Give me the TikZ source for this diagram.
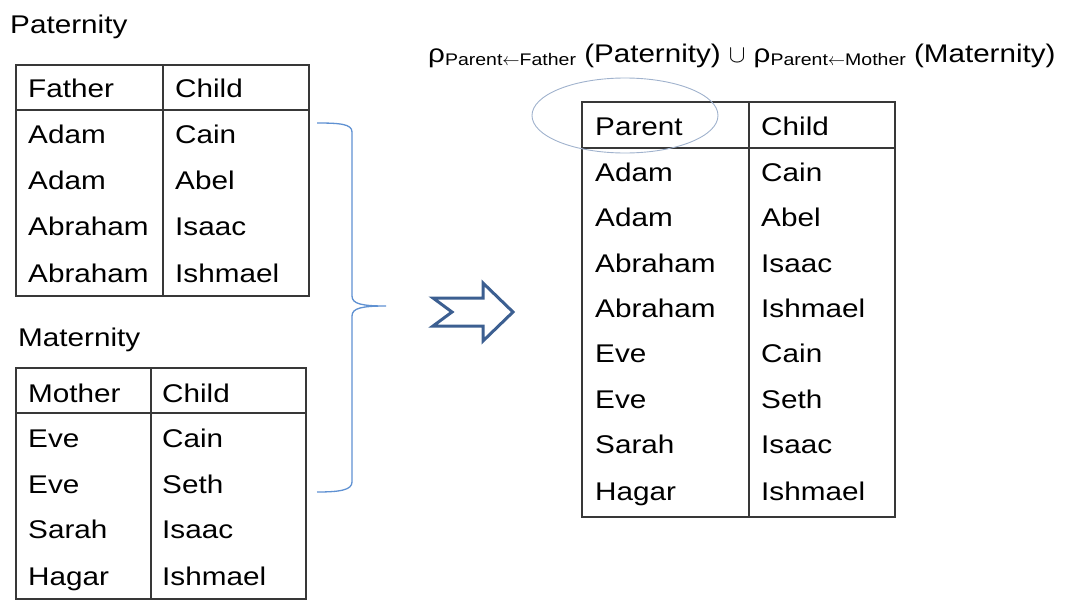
\documentclass[tikz,border=0pt]{standalone}
\usepackage{fontspec}
\setmainfont[FakeStretch=1.16]{Liberation Sans}
\newcommand{\relsub}[1]{\raisebox{-3pt}{\fontsize{16.8}{20}\selectfont #1}}
\newcommand{\bigunion}{{\fontsize{28}{30}\selectfont$\cup$}}
\begin{document}
\begin{tikzpicture}[x=1pt,y=-1pt,
  cell/.style={anchor=base west,inner sep=0pt,font=\fontsize{25.6}{30}\selectfont},
  caption/.style={anchor=base west,inner sep=0pt,font=\fontsize{25.6}{30}\selectfont},
  formula/.style={anchor=base west,inner sep=0pt,font=\fontsize{25.5}{30}\selectfont},
  rule/.style={draw=black!78,line width=1.5pt},
  bracecol/.style={draw={rgb,255:red,95;green,145;blue,210},line width=1.3pt},
  bigarrow/.style={draw={rgb,255:red,60;green,95;blue,145},line width=3pt,line join=miter},
  ring/.style={draw={rgb,255:red,160;green,178;blue,205},line width=0.9pt}]
\useasboundingbox (0,0) rectangle (1066,600);

% Paternity
\node[caption] (patlabel) at (10,33) {Paternity};
\draw[rule] (16,65) rectangle (309,296);
\draw[rule] (16,110) -- (309,110);
\draw[rule] (163,65) -- (163,296);
\node[cell] (pf)  at (28,97)  {Father};
\node[cell] (pc)  at (175,97) {Child};
\node[cell] (p1a) at (28,143) {Adam};    \node[cell] (p1b) at (175,143) {Cain};
\node[cell] (p2a) at (28,189) {Adam};    \node[cell] (p2b) at (175,189) {Abel};
\node[cell] (p3a) at (28,235) {Abraham}; \node[cell] (p3b) at (175,235) {Isaac};
\node[cell] (p4a) at (28,282) {Abraham}; \node[cell] (p4b) at (175,282) {Ishmael};

% Maternity
\node[caption] (matlabel) at (18,346) {Maternity};
\draw[rule] (16,368) rectangle (306,599);
\draw[rule] (16,413) -- (306,413);
\draw[rule] (151,368) -- (151,599);
\node[cell] (mm)  at (28,402)  {Mother};
\node[cell] (mc)  at (162,402) {Child};
\node[cell] (m1a) at (28,447) {Eve};   \node[cell] (m1b) at (162,447) {Cain};
\node[cell] (m2a) at (28,493) {Eve};   \node[cell] (m2b) at (162,493) {Seth};
\node[cell] (m3a) at (28,538) {Sarah}; \node[cell] (m3b) at (162,538) {Isaac};
\node[cell] (m4a) at (28,585) {Hagar}; \node[cell] (m4b) at (162,585) {Ishmael};

% Curly brace joining the two relations
\draw[bracecol] (317,123) .. controls (340,123) and (352,124) .. (352,132)
  -- (352,296) .. controls (352,304) and (362,306) .. (386,306)
  .. controls (362,306) and (352,308) .. (352,316)
  -- (352,482) .. controls (352,490) and (340,492) .. (317,492);

% Hollow block arrow
\draw[bigarrow] (433,298) -- (483,298) -- (483,283) -- (513,312) -- (483,341)
  -- (483,326) -- (433,326) -- (452,312) -- cycle;

% Expression
\node[formula] (expr) at (428,62) {ρ\relsub{Parent$\leftarrow$Father} (Paternity) \bigunion{} ρ\relsub{Parent$\leftarrow$Mother} (Maternity)};

% Result relation
\draw[rule] (582,102) rectangle (895,517);
\draw[rule] (582,148) -- (895,148);
\draw[rule] (749,102) -- (749,517);
\node[cell] (rp) at (595,135) {Parent};
\node[cell] (rc) at (761,135) {Child};
\node[cell] (r1a) at (595,181) {Adam};    \node[cell] (r1b) at (761,181) {Cain};
\node[cell] (r2a) at (595,226) {Adam};    \node[cell] (r2b) at (761,226) {Abel};
\node[cell] (r3a) at (595,272) {Abraham}; \node[cell] (r3b) at (761,272) {Isaac};
\node[cell] (r4a) at (595,317) {Abraham}; \node[cell] (r4b) at (761,317) {Ishmael};
\node[cell] (r5a) at (595,362) {Eve};     \node[cell] (r5b) at (761,362) {Cain};
\node[cell] (r6a) at (595,408) {Eve};     \node[cell] (r6b) at (761,408) {Seth};
\node[cell] (r7a) at (595,453) {Sarah};   \node[cell] (r7b) at (761,453) {Isaac};
\node[cell] (r8a) at (595,500) {Hagar};   \node[cell] (r8b) at (761,500) {Ishmael};

% Highlight around the renamed attribute
\draw[ring] (625,115.5) ellipse [x radius=93, y radius=37.5];
\end{tikzpicture}
\end{document}
